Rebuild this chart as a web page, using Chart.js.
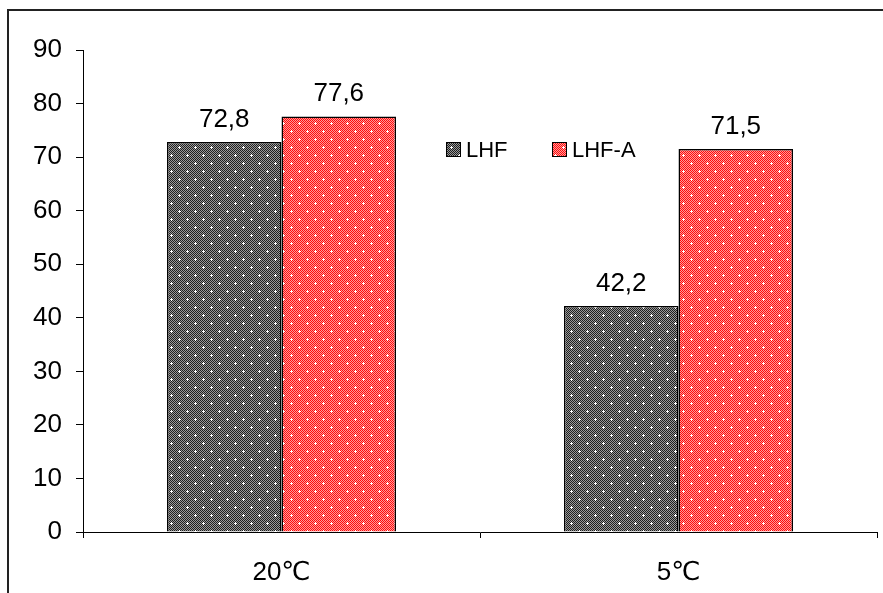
<!DOCTYPE html>
<html>
<head>
<meta charset="utf-8">
<script src="https://cdn.jsdelivr.net/npm/chart.js@4"></script>
<style>
  html, body { margin: 0; padding: 0; background: #fff; }
  #wrap { width: 883px; height: 593px; }
</style>
</head>
<body>
<div id="wrap"><canvas id="c" width="883" height="593"></canvas></div>
<script>
// Categories, series and axis settings
const categories = ['20\u2103', '5\u2103'];
const seriesNames = ['LHF', 'LHF-A'];
const lhfValues = [72.8, 42.2];
const lhfaValues = [77.6, 71.5];
const yTicks = [0, 10, 20, 30, 40, 50, 60, 70, 80, 90];

const FONT = '"Liberation Sans", Arial, "DejaVu Sans", sans-serif';

// Dotted fill: a fine two-tone checkerboard with white crosses on a lattice
function makePattern(dark, light) {
  const t = document.createElement('canvas');
  t.width = 16; t.height = 16;
  const g = t.getContext('2d');
  for (let y = 0; y < 16; y++) {
    for (let x = 0; x < 16; x++) {
      g.fillStyle = ((x + y) % 2 === 0) ? dark : light;
      g.fillRect(x, y, 1, 1);
    }
  }
  g.fillStyle = '#ffffff';
  [[3, 3], [11, 11]].forEach(([cx, cy]) => {
    g.fillRect(cx - 1, cy, 3, 1);
    g.fillRect(cx, cy - 1, 1, 3);
  });
  return g.createPattern(t, 'repeat');
}

const grayFill = makePattern('#1e1e1e', '#9a9a9a');
const redFill = makePattern('#ff0c0c', '#ff9a9a');

// White page with the outer frame on the left and top
const framePlugin = {
  id: 'frame',
  beforeDraw(chart) {
    const ctx = chart.ctx;
    ctx.save();
    ctx.fillStyle = '#fff';
    ctx.fillRect(0, 0, chart.width, chart.height);
    ctx.strokeStyle = '#222';
    ctx.lineWidth = 2;
    ctx.beginPath();
    ctx.moveTo(8, chart.height);
    ctx.lineTo(8, 10);
    ctx.lineTo(chart.width, 10);
    ctx.stroke();
    ctx.restore();
  }
};

// Values written above each bar, decimal comma
const valueLabels = {
  id: 'valueLabels',
  afterDatasetsDraw(chart) {
    const ctx = chart.ctx;
    ctx.save();
    ctx.font = '26px ' + FONT;
    ctx.fillStyle = '#000';
    ctx.textAlign = 'center';
    ctx.textBaseline = 'alphabetic';
    chart.data.datasets.forEach((ds, i) => {
      chart.getDatasetMeta(i).data.forEach((bar, j) => {
        const txt = ds.data[j].toFixed(1).replace('.', ',');
        ctx.fillText(txt, bar.x, bar.y - 15);
      });
    });
    ctx.restore();
  }
};

// Legend inside the plot area
const insideLegend = {
  id: 'insideLegend',
  afterDraw(chart) {
    const ctx = chart.ctx;
    const starts = [446, 552];
    const cy = 150;
    ctx.save();
    ctx.font = '22px ' + FONT;
    ctx.textBaseline = 'middle';
    ctx.textAlign = 'left';
    chart.data.datasets.forEach((ds, i) => {
      const x = starts[i];
      ctx.fillStyle = ds.backgroundColor;
      ctx.fillRect(x, cy - 8, 15, 15);
      ctx.strokeStyle = '#000';
      ctx.lineWidth = 1;
      ctx.strokeRect(x + 0.5, cy - 7.5, 14, 14);
      ctx.fillStyle = '#000';
      ctx.fillText(ds.label, x + 20, cy + 1);
    });
    ctx.restore();
  }
};

new Chart(document.getElementById('c'), {
  type: 'bar',
  data: {
    labels: categories,
    datasets: [
      {
        label: seriesNames[0],
        data: lhfValues,
        backgroundColor: grayFill,
        borderColor: '#000',
        borderWidth: 1.5,
        categoryPercentage: 0.577,
        barPercentage: 1.0
      },
      {
        label: seriesNames[1],
        data: lhfaValues,
        backgroundColor: redFill,
        borderColor: '#000',
        borderWidth: 1.5,
        categoryPercentage: 0.577,
        barPercentage: 1.0
      }
    ]
  },
  options: {
    responsive: false,
    animation: false,
    devicePixelRatio: 1,
    layout: { padding: { left: 8, top: 50, right: 6, bottom: 0 } },
    plugins: {
      legend: { display: false },
      tooltip: { enabled: false }
    },
    scales: {
      x: {
        grid: { drawOnChartArea: false, offset: true, tickLength: 6, color: '#000', lineWidth: 1 },
        border: { color: '#000', width: 1 },
        ticks: { color: '#000', font: { family: FONT, size: 26 }, padding: 19 },
        afterFit(s) { s.height = 61; }
      },
      y: {
        min: 0,
        max: 90,
        afterBuildTicks(s) { s.ticks = yTicks.map(v => ({ value: v })); },
        grid: { drawOnChartArea: false, tickLength: 7, color: '#000', lineWidth: 1 },
        border: { color: '#000', width: 1 },
        ticks: { color: '#000', font: { family: FONT, size: 26 }, padding: 14 },
        afterFit(s) { s.width = 75; }
      }
    }
  },
  plugins: [framePlugin, valueLabels, insideLegend]
});
</script>
</body>
</html>
